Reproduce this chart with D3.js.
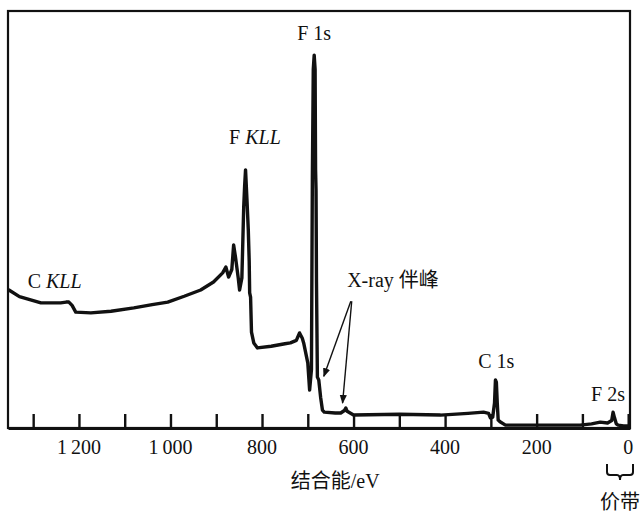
<!DOCTYPE html>
<html>
<head>
<meta charset="utf-8">
<script src="https://cdn.jsdelivr.net/npm/d3@7"></script>
<style>
  body { margin: 0; background: #fff; }
  text { font-family: "Liberation Serif", "Noto Sans CJK SC", serif; fill: #111; }
</style>
</head>
<body>
<script>
// 基本设置
const width = 643;
const height = 514;
const marginTop = 11;
const marginLeft = 8;
const plotRight = 630;
const plotBottom = 428;

// 结合能 (eV) 与强度 (a.u.)
const bindingEnergy = [1353, 1330, 1283, 1240, 1228, 1222, 1215, 1207, 1174, 1130,
  1080, 1040, 1006, 970, 934, 906, 886, 879, 873, 866,
  862, 858, 852, 849, 844, 840, 838, 836, 833, 830,
  828, 827, 825, 823, 818, 810, 780, 750, 738, 725,
  718, 712, 709, 700, 696, 692, 690, 688, 686, 684,
  683, 682, 681, 679, 676, 672, 668, 664, 640, 628,
  620, 617, 614, 600, 500, 410, 350, 316, 305, 301,
  296, 292, 290, 288, 286, 284, 280, 268, 200, 105,
  80, 61, 45, 36, 33, 30, 26, 22, 10, 0];
const intensity = [33.1, 31.5, 30.0, 30.0, 30.2, 30.2, 29.4, 27.8, 27.6, 28.0,
  28.8, 29.6, 30.2, 31.6, 33.1, 35.0, 37.2, 38.6, 36.2, 38.0,
  43.9, 41.0, 36.0, 33.1, 36.0, 53.0, 58.0, 61.9, 55.0, 47.5,
  40.0, 32.4, 31.4, 23.0, 20.4, 19.2, 19.6, 20.2, 20.4, 21.0,
  22.8, 21.5, 20.4, 15.6, 9.1, 14.0, 60.0, 86.0, 89.4, 86.0,
  62.0, 57.1, 35.0, 12.2, 11.5, 7.4, 4.3, 3.8, 3.6, 3.6,
  4.2, 4.8, 4.0, 3.1, 3.3, 3.1, 3.5, 3.8, 3.5, 2.4,
  2.6, 6.0, 11.5, 11.0, 6.0, 1.9, 1.5, 0.7, 0.7, 0.7,
  1.0, 1.4, 1.2, 1.8, 3.8, 2.5, 1.0, 0.7, 0.5, 0.5];

const tickValues = d3.range(0, 1301, 100);
const labelValues = [1200, 1000, 800, 600, 400, 200, 0];

// 峰标注: [文字, 结合能, 强度, 对齐]
const peakLabels = [
  ['F 1s', 686, 93, 'middle'],
  ['C 1s', 288, 14.5, 'middle'],
  ['F 2s', 44, 6.5, 'middle']
];

const svg = d3.select('body')
  .append('svg')
  .attr('width', width)
  .attr('height', height);

const x = d3.scaleLinear()
  .domain([1355, -4])
  .range([marginLeft, plotRight]);

const y = d3.scaleLinear()
  .domain([0, 100])
  .range([plotBottom, marginTop]);

// 边框
svg.append('rect')
  .attr('x', marginLeft)
  .attr('y', marginTop)
  .attr('width', plotRight - marginLeft)
  .attr('height', plotBottom - marginTop)
  .attr('fill', 'none')
  .attr('stroke', '#111')
  .attr('stroke-width', 2.2);

// x 轴
const xAxis = d3.axisBottom(x)
  .tickValues(tickValues)
  .tickSizeInner(-14)
  .tickSizeOuter(0)
  .tickFormat('');

const axis_g = svg.append('g')
  .attr('transform', `translate(0, ${plotBottom})`)
  .call(xAxis);
axis_g.select('.domain')
  .attr('stroke', '#111')
  .attr('stroke-width', 3);
axis_g.selectAll('.tick line')
  .attr('stroke', '#111')
  .attr('stroke-width', 2.4);

svg.selectAll('text.tick-label')
  .data(labelValues)
  .enter()
  .append('text')
  .attr('class', 'tick-label')
  .attr('x', d => x(d))
  .attr('y', 454)
  .attr('text-anchor', 'middle')
  .attr('font-size', 20)
  .text(d => d >= 1000 ? Math.floor(d / 1000) + '\u2009' + String(d % 1000).padStart(3, '0') : d);

svg.append('text')
  .attr('x', x(640))
  .attr('y', 488)
  .attr('text-anchor', 'middle')
  .attr('font-size', 20)
  .text('结合能/eV');

// 谱线
const points = bindingEnergy.map((e, i) => [e, intensity[i]]);
const line = d3.line()
  .x(d => x(d[0]))
  .y(d => y(d[1]));

svg.append('path')
  .datum(points)
  .attr('d', line)
  .attr('fill', 'none')
  .attr('stroke', '#111')
  .attr('stroke-width', 3.4)
  .attr('stroke-linejoin', 'round')
  .attr('stroke-linecap', 'round');

// 标注
svg.selectAll('text.peak')
  .data(peakLabels)
  .enter()
  .append('text')
  .attr('class', 'peak')
  .attr('x', d => x(d[1]))
  .attr('y', d => y(d[2]))
  .attr('text-anchor', d => d[3])
  .attr('font-size', 20)
  .text(d => d[0]);

function kllLabel(prefix, e, v) {
  const t = svg.append('text')
    .attr('x', x(e))
    .attr('y', y(v))
    .attr('font-size', 20);
  t.append('tspan').text(prefix + ' ');
  t.append('tspan').attr('font-style', 'italic').text('KLL');
}
kllLabel('F', 872, 68.2);
kllLabel('C', 1312, 33.6);

svg.append('text')
  .attr('x', x(614))
  .attr('y', y(33.8))
  .attr('font-size', 20)
  .text('X-ray 伴峰');

// 箭头
svg.append('defs').append('marker')
  .attr('id', 'arrow')
  .attr('viewBox', '0 0 10 10')
  .attr('refX', 9)
  .attr('refY', 5)
  .attr('markerWidth', 9)
  .attr('markerHeight', 9)
  .attr('markerUnits', 'userSpaceOnUse')
  .attr('orient', 'auto')
  .append('path')
  .attr('d', 'M0,1 L10,5 L0,9 Z')
  .attr('fill', '#111');

const arrows = [[606, 30.4, 665, 12.4], [604, 30.4, 624, 6.0]];
svg.selectAll('line.arrow')
  .data(arrows)
  .enter()
  .append('line')
  .attr('class', 'arrow')
  .attr('x1', d => x(d[0]))
  .attr('y1', d => y(d[1]))
  .attr('x2', d => x(d[2]))
  .attr('y2', d => y(d[3]))
  .attr('stroke', '#111')
  .attr('stroke-width', 1.4)
  .attr('marker-end', 'url(#arrow)');

// 价带 大括号
const bx0 = 607, bx1 = 633, by0 = 464, by1 = 475;
const bm = (bx0 + bx1) / 2;
const brace = d3.path();
brace.moveTo(bx0, by0);
brace.lineTo(bx0, by1 - 3);
brace.quadraticCurveTo(bx0, by1, bx0 + 3, by1);
brace.lineTo(bm - 3, by1);
brace.quadraticCurveTo(bm, by1, bm, by1 + 5);
brace.quadraticCurveTo(bm, by1, bm + 3, by1);
brace.lineTo(bx1 - 3, by1);
brace.quadraticCurveTo(bx1, by1, bx1, by1 - 3);
brace.lineTo(bx1, by0);
svg.append('path')
  .attr('d', brace.toString())
  .attr('fill', 'none')
  .attr('stroke', '#111')
  .attr('stroke-width', 2);

svg.append('text')
  .attr('x', bm)
  .attr('y', 509)
  .attr('text-anchor', 'middle')
  .attr('font-size', 20)
  .text('价带');
</script>
</body>
</html>
